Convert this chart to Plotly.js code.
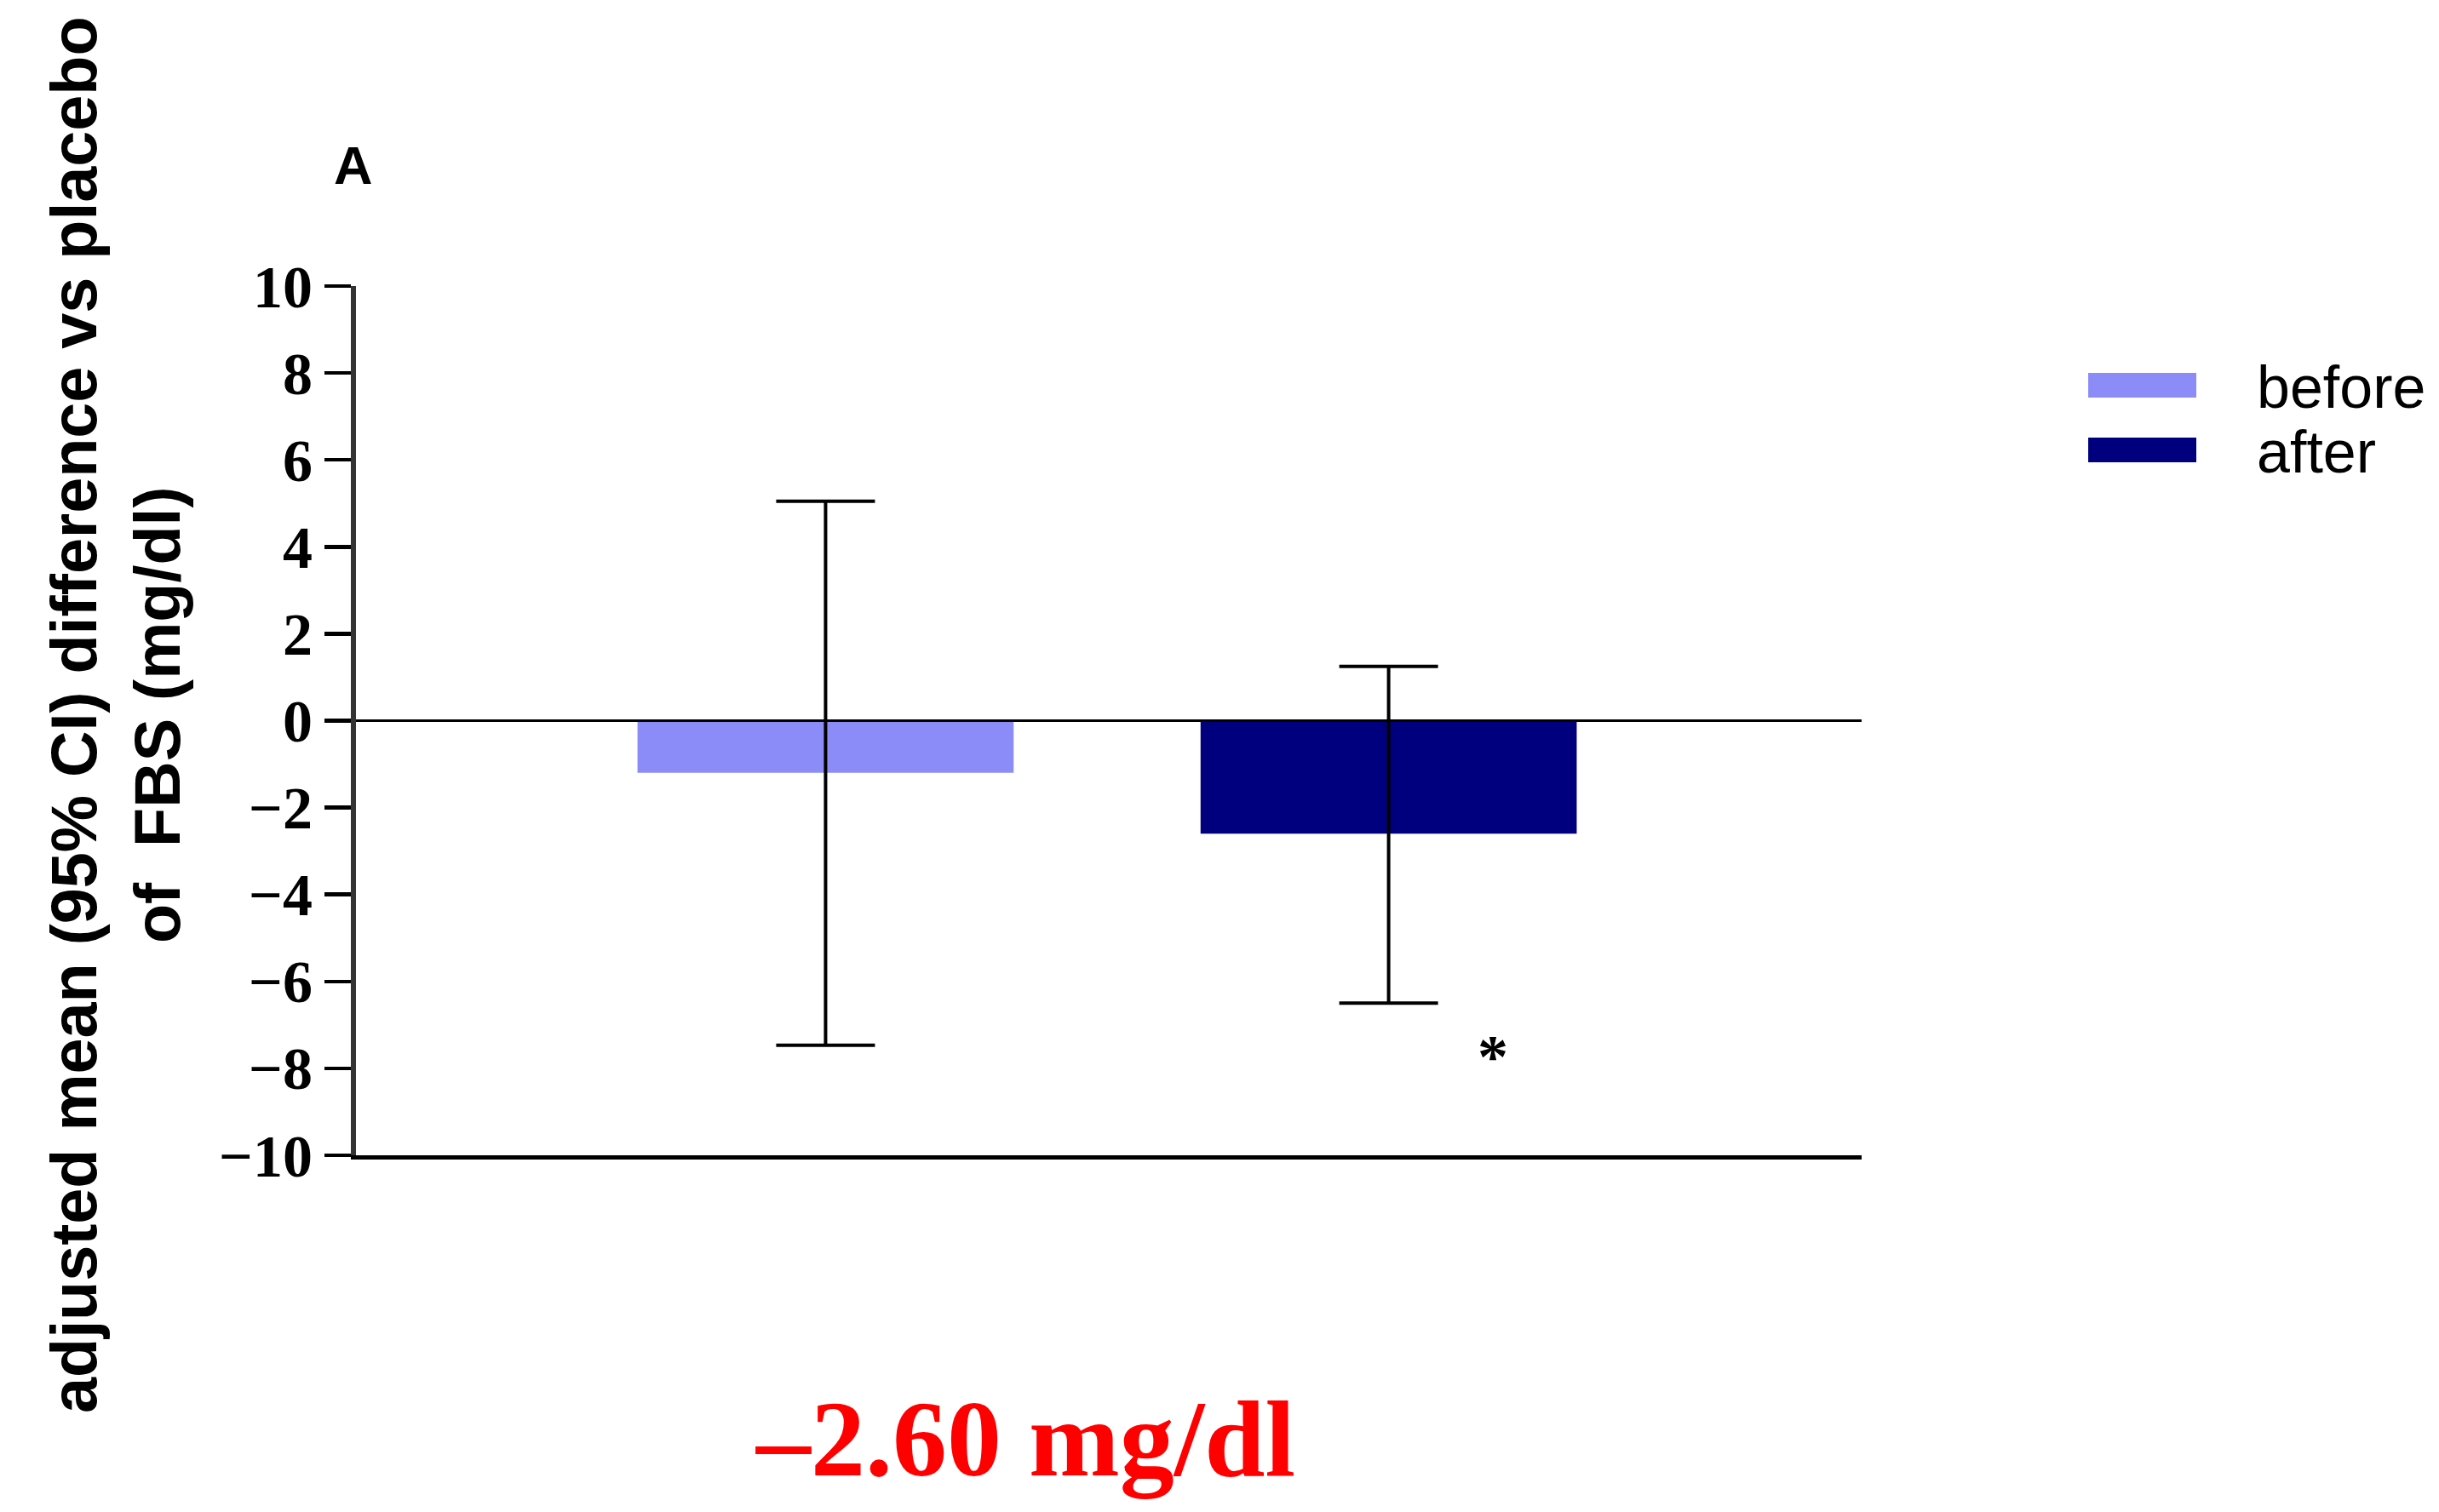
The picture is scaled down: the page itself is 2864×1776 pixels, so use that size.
<!DOCTYPE html>
<html>
<head>
<meta charset="utf-8">
<script src="https://cdn.plot.ly/plotly-3.0.1.min.js"></script>
<style>html,body{margin:0;padding:0;background:#fff;}#chart{width:2864px;height:1776px;}</style>
</head>
<body>
<div id="chart"></div>
<script>
// ---- data ----
const groups = ['before', 'after'];
const meanDiff = [-1.2, -2.6];
const ciLow = [-7.47, -6.5];
const ciHigh = [5.05, 1.25];
const barColors = ['#8C8CF8', '#00007F'];
const yTickVals = [-10, -8, -6, -4, -2, 0, 2, 4, 6, 8, 10];
const summaryText = '\u20132.60 mg/dl';

const traces = groups.map((g, i) => ({
  type: 'bar',
  name: g,
  x: [g],
  y: [meanDiff[i]],
  width: 0.668,
  marker: {color: barColors[i], line: {width: 0}},
  error_y: {
    type: 'data',
    symmetric: false,
    array: [ciHigh[i] - meanDiff[i]],
    arrayminus: [meanDiff[i] - ciLow[i]],
    color: '#000',
    thickness: 4,
    width: 58
  },
  showlegend: false,
  hoverinfo: 'skip'
}));

// legend drawn manually (long flat swatches)
const legendShapes = [];
const legendAnn = [];
const legY = [[0.8717, 0.9001, 0.8834], [0.7973, 0.8257, 0.809]];
groups.forEach((g, i) => {
  legendShapes.push({type: 'rect', xref: 'paper', yref: 'paper', x0: 1.1505, x1: 1.2223,
    y0: legY[i][0], y1: legY[i][1], fillcolor: barColors[i], line: {width: 0}});
  legendAnn.push({xref: 'paper', yref: 'paper', x: 1.2613, y: legY[i][2], xanchor: 'left', yanchor: 'middle',
    text: g, showarrow: false, font: {family: 'Liberation Sans, Arial', size: 70, color: '#000'}});
});

const layout = {
  width: 2864, height: 1776, autosize: false,
  margin: {l: 418, r: 678, t: 336, b: 419, pad: 0},
  paper_bgcolor: '#fff', plot_bgcolor: '#fff',
  barmode: 'overlay',
  showlegend: false,
  xaxis: {
    type: 'category', categoryorder: 'array', categoryarray: groups,
    range: [-0.834, 1.84], showticklabels: false, ticks: '',
    showline: true, linewidth: 5, linecolor: '#000', showgrid: false, zeroline: false
  },
  yaxis: {
    range: [-10, 10], tickmode: 'array', tickvals: yTickVals,
    ticks: 'outside', ticklen: 31, tickwidth: 4.5, tickcolor: '#000',
    showline: true, linewidth: 6, linecolor: '#333', showgrid: false,
    zeroline: false,
    tickfont: {family: 'Liberation Serif, Times New Roman', size: 70, weight: 'bold', color: '#000'}
  },
  shapes: [
    {type: 'line', xref: 'paper', yref: 'y', x0: 0, x1: 1, y0: 0, y1: 0, layer: 'above',
     line: {color: '#000', width: 3}}
  ].concat(legendShapes),
  annotations: [
    {xref: 'paper', yref: 'paper', x: -0.1595, y: 0.5064, xanchor: 'center', yanchor: 'middle',
     textangle: -90, showarrow: false, align: 'center',
     text: 'adjusted mean (95% CI) difference vs placebo<br>of&nbsp; FBS (mg/dl)',
     font: {family: 'Liberation Sans, Arial', size: 75.5, weight: 'bold', color: '#000'}},
    {xref: 'paper', yref: 'paper', x: -0.0017, y: 1.139, xanchor: 'center', yanchor: 'middle',
     text: 'A', showarrow: false,
     font: {family: 'Liberation Sans, Arial', size: 63, weight: 'bold', color: '#000'}},
    {xref: 'paper', yref: 'paper', x: 0.4446, y: -0.326, xanchor: 'center', yanchor: 'middle',
     text: summaryText, showarrow: false,
     font: {family: 'Liberation Serif, Times New Roman', size: 128, weight: 'bold', color: '#FF0000'}},
    {xref: 'x', yref: 'y', x: 1.185, y: -7.72, xanchor: 'center', yanchor: 'middle',
     text: '*', showarrow: false,
     font: {family: 'Liberation Serif, Times New Roman', size: 72, weight: 'bold', color: '#000'}}
  ].concat(legendAnn)
};

Plotly.newPlot('chart', traces, layout, {displayModeBar: false, staticPlot: true});
</script>
</body>
</html>
